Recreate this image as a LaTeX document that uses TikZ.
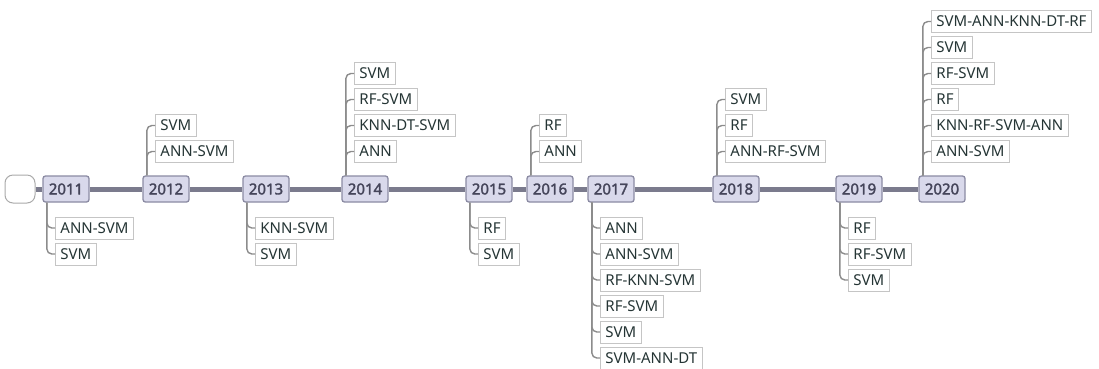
\documentclass[tikz,border=0pt]{standalone}
\usepackage{fontspec}
\setmainfont{Noto Sans}[AutoFakeBold=2]
\usetikzlibrary{calc}
\definecolor{yrfill}{HTML}{D9D9EB}
\definecolor{yrdraw}{HTML}{8B8BA3}
\definecolor{yrtext}{HTML}{45455A}
\definecolor{mainc}{HTML}{7B7B8D}
\definecolor{branchc}{HTML}{8C8C8C}
\definecolor{kiddraw}{HTML}{C5C5C5}
\definecolor{kidtext}{HTML}{253535}
\definecolor{startdraw}{HTML}{AAAAAA}
\tikzset{
  yearbox/.style={draw=yrdraw, fill=yrfill, line width=1.3pt, rounded corners=2.5pt,
    minimum width=46pt, minimum height=26pt, inner sep=0pt,
    font=\fontsize{15}{18}\selectfont\bfseries, text=yrtext},
  kid/.style={draw=kiddraw, fill=white, line width=0.9pt, minimum height=22pt,
    inner xsep=5pt, inner ysep=0pt, anchor=west,
    font=\fontsize{15}{18}\selectfont, text=kidtext},
  branch/.style={draw=branchc, line width=1.4pt, rounded corners=5pt},
  mainline/.style={draw=mainc, line width=5pt},
  startbox/.style={draw=startdraw, fill=white, line width=1pt, rounded corners=8pt,
    minimum width=30pt, minimum height=28pt, inner sep=0pt}
}
\newcommand\kidsbelow[3]{%
  \foreach \kk [count=\ii] in {#3} {%
    \node[kid] (k#1-\ii) at (#2+12, 202+26*\ii) {\kk};
    \draw[branch] ($(y#1.south west)+(4.5,0)$) |- (k#1-\ii.west);
  }}
\newcommand\kidsabove[3]{%
  \foreach \kk [count=\ii] in {#3} {%
    \node[kid] (k#1-\ii) at (#2+12, 177.5-26*\ii) {\kk};
    \draw[branch] ($(y#1.north west)+(4.5,0)$) |- (k#1-\ii.west);
  }}
\begin{document}
\begin{tikzpicture}[x=1pt,y=-1pt]
\useasboundingbox (0,0) rectangle (1099,368);
\node[startbox] (start) at (20,189) {};
\foreach \yr/\L in {2011/43,2012/143,2013/243,2014/342,2015/466,2016/527,2017/588,2018/713,2019/836,2020/919}
  \node[yearbox] (y\yr) at (\L+23,189) {\yr};
\draw[mainline] (start.east) -- (y2011.west);
\foreach \a/\b in {2011/2012,2012/2013,2013/2014,2014/2015,2015/2016,2016/2017,2017/2018,2018/2019,2019/2020}
  \draw[mainline] (y\a.east) -- (y\b.west);
\kidsbelow{2011}{43}{ANN-SVM,SVM}
\kidsabove{2012}{143}{ANN-SVM,SVM}
\kidsbelow{2013}{243}{KNN-SVM,SVM}
\kidsabove{2014}{342}{ANN,KNN-DT-SVM,RF-SVM,SVM}
\kidsbelow{2015}{466}{RF,SVM}
\kidsabove{2016}{527}{ANN,RF}
\kidsbelow{2017}{588}{ANN,ANN-SVM,RF-KNN-SVM,RF-SVM,SVM,SVM-ANN-DT}
\kidsabove{2018}{713}{ANN-RF-SVM,RF,SVM}
\kidsbelow{2019}{836}{RF,RF-SVM,SVM}
\kidsabove{2020}{919}{ANN-SVM,KNN-RF-SVM-ANN,RF,RF-SVM,SVM,SVM-ANN-KNN-DT-RF}
\end{tikzpicture}
\end{document}
